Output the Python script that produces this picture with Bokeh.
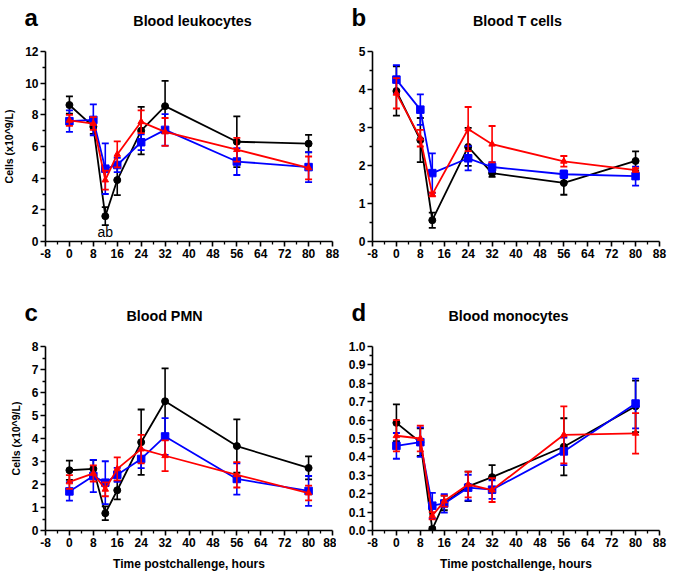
from bokeh.plotting import figure
from bokeh.layouts import gridplot
from bokeh.models import Range1d, FixedTicker, Label, NumeralTickFormatter
from bokeh.embed import file_html
from bokeh.resources import INLINE

# ---------------- data ----------------
hours = [0, 8, 12, 16, 24, 32, 56, 80]
hours_b = [0, 8, 12, 24, 32, 56, 80]

# a: Blood leukocytes
leuk_black = [8.62, 7.25, 1.60, 3.88, 7.00, 8.55, 6.30, 6.18]
leuk_black_err = [0.55, 0.45, 0.57, 0.95, 1.50, 1.60, 1.60, 0.55]
leuk_blue = [7.60, 7.68, 4.60, 4.83, 6.27, 7.05, 5.05, 4.70]
leuk_blue_err = [0.68, 0.98, 1.60, 0.45, 0.50, 1.00, 0.85, 0.95]
leuk_red = [7.65, 7.45, 3.88, 5.50, 7.56, 6.92, 5.80, 4.65]
leuk_red_err = [0.35, 0.40, 0.60, 0.82, 0.72, 0.88, 0.75, 0.72]

# b: Blood T cells
tc_black = [3.96, 2.67, 0.56, 2.49, 1.80, 1.54, 2.12]
tc_black_err = [0.65, 0.58, 0.20, 0.50, 0.10, 0.31, 0.25]
tc_blue = [4.26, 3.47, 1.80, 2.19, 1.96, 1.77, 1.72]
tc_blue_err = [0.38, 0.40, 0.52, 0.32, 0.13, 0.10, 0.25]
tc_red = [3.90, 2.72, 1.24, 2.96, 2.56, 2.11, 1.88]
tc_red_err = [0.40, 0.22, 0.05, 0.58, 0.48, 0.14, 0.05]

# c: Blood PMN
pmn_black = [2.62, 2.68, 0.75, 1.75, 3.84, 5.62, 3.67, 2.72]
pmn_black_err = [0.42, 0.38, 0.30, 0.40, 1.42, 1.43, 1.16, 0.50]
pmn_blue = [1.70, 2.37, 2.08, 2.42, 3.11, 4.09, 2.24, 1.72]
pmn_blue_err = [0.40, 0.70, 0.93, 0.30, 0.40, 0.80, 0.68, 0.65]
pmn_red = [2.11, 2.48, 1.79, 2.68, 3.54, 3.25, 2.42, 1.63]
pmn_red_err = [0.30, 0.35, 0.30, 0.50, 0.62, 0.67, 0.55, 0.32]

# d: Blood monocytes
mono_black = [0.585, 0.48, 0.008, 0.15, 0.24, 0.29, 0.455, 0.675]
mono_black_err = [0.10, 0.075, 0.01, 0.04, 0.08, 0.065, 0.155, 0.14]
mono_blue = [0.46, 0.48, 0.135, 0.147, 0.233, 0.222, 0.43, 0.69]
mono_blue_err = [0.07, 0.08, 0.07, 0.05, 0.07, 0.05, 0.075, 0.135]
mono_red = [0.515, 0.50, 0.08, 0.16, 0.25, 0.22, 0.52, 0.528]
mono_red_err = [0.085, 0.07, 0.02, 0.03, 0.07, 0.065, 0.155, 0.11]

x_ticks = [-8, 0, 8, 16, 24, 32, 40, 48, 56, 64, 72, 80, 88]
y_ticks_a = [0, 2, 4, 6, 8, 10, 12]
y_ticks_b = [0, 1, 2, 3, 4, 5]
y_ticks_c = [0, 1, 2, 3, 4, 5, 6, 7, 8]
y_ticks_d = [0.0, 0.1, 0.2, 0.3, 0.4, 0.5, 0.6, 0.7, 0.8, 0.9, 1.0]

titles = ["Blood leukocytes", "Blood T cells", "Blood PMN", "Blood monocytes"]
letters = ["a", "b", "c", "d"]
y_label = "Cells (x10^9/L)"
x_label = "Time postchallenge, hours"

FONT = "Liberation Sans"
BLACK, BLUE, RED = "#000000", "#0000ff", "#ff0000"


def midpoints(t):
    return [(t[i] + t[i + 1]) / 2 for i in range(len(t) - 1)]


def make_panel(letter, title, yticks, ymax, left_b, right_b, top_b, bottom_b, fw, fh,
               title_x, ylab=None, xlab=None, fmt=None):
    p = figure(frame_width=fw, frame_height=fh, output_backend="svg", toolbar_location=None,
               x_range=Range1d(-8, 88), y_range=Range1d(0, ymax),
               min_border_left=left_b, min_border_right=right_b,
               min_border_top=top_b, min_border_bottom=bottom_b)
    p.outline_line_color = None
    p.xgrid.grid_line_color = None
    p.ygrid.grid_line_color = None
    p.background_fill_color = "white"
    p.border_fill_color = "white"
    p.xaxis.ticker = FixedTicker(ticks=x_ticks, minor_ticks=midpoints(x_ticks))
    p.yaxis.ticker = FixedTicker(ticks=yticks, minor_ticks=midpoints(yticks))
    p.xaxis.major_label_overrides = {x_ticks[0]: str(x_ticks[0])}
    if fmt:
        p.yaxis.formatter = NumeralTickFormatter(format=fmt)
    for ax in (p.xaxis[0], p.yaxis[0]):
        ax.axis_line_width = 1.6
        ax.axis_line_color = "black"
        ax.major_tick_line_width = 1.6
        ax.minor_tick_line_width = 1.3
        ax.major_tick_in = 0
        ax.major_tick_out = 5
        ax.minor_tick_in = 0
        ax.minor_tick_out = 3
        ax.major_label_text_font = FONT
        ax.major_label_text_font_style = "bold"
        ax.major_label_text_font_size = "12px"
        ax.major_label_text_color = "black"
        ax.major_label_standoff = 2
        ax.axis_label_text_font = FONT
        ax.axis_label_text_font_style = "bold"
        ax.axis_label_text_color = "black"
    p.yaxis[0].axis_label_text_font_size = "10.5px"
    p.xaxis[0].axis_label_text_font_size = "12px"
    p.yaxis[0].axis_label_standoff = 7
    p.xaxis[0].axis_label_standoff = 7
    if ylab:
        p.yaxis[0].axis_label = ylab
    if xlab:
        p.xaxis[0].axis_label = xlab
    # title band first (nearest the frame), letter band stacked above it
    p.add_layout(Label(x=title_x, y=31, x_units="screen", y_units="screen", text=title,
                       text_font=FONT, text_font_style="bold", text_font_size="14.3px",
                       text_align="center", text_baseline="alphabetic", text_color="black"), "above")
    p.add_layout(Label(x=-21, y=18, x_units="screen", y_units="screen", text=letter,
                       text_font=FONT, text_font_style="bold", text_font_size="24px",
                       text_align="left", text_baseline="alphabetic", text_color="black"), "above")
    return p


def add_series(p, xs, ys, errs, color, marker, size):
    lo = [y - e for y, e in zip(ys, errs)]
    hi = [y + e for y, e in zip(ys, errs)]
    p.segment(x0=xs, y0=lo, x1=xs, y1=hi, line_color=color, line_width=1.6)
    p.scatter(xs, lo, marker="dash", size=7, line_color=color, line_width=1.8)
    p.scatter(xs, hi, marker="dash", size=7, line_color=color, line_width=1.8)
    p.line(xs, ys, line_color=color, line_width=1.8)
    p.scatter(xs, ys, marker=marker, size=size, fill_color=color, line_color=color)


FW = 287
pa = make_panel("a", titles[0], y_ticks_a, 12, 36, 10, 51, 57, FW, 190, 147, ylab=y_label)
pb = make_panel("b", titles[1], y_ticks_b, 5, 30, 8, 51, 57, FW, 190, 145)
pc = make_panel("c", titles[2], y_ticks_c, 8, 36, 10, 48, 36, FW, 184, 119, ylab=y_label, xlab=x_label)
pd = make_panel("d", titles[3], y_ticks_d, 1, 30, 8, 48, 36, FW, 184, 136, xlab=x_label, fmt="0.0")

for p, xs, data in [
    (pa, hours, [(leuk_black, leuk_black_err), (leuk_blue, leuk_blue_err), (leuk_red, leuk_red_err)]),
    (pb, hours_b, [(tc_black, tc_black_err), (tc_blue, tc_blue_err), (tc_red, tc_red_err)]),
    (pc, hours, [(pmn_black, pmn_black_err), (pmn_blue, pmn_blue_err), (pmn_red, pmn_red_err)]),
    (pd, hours, [(mono_black, mono_black_err), (mono_blue, mono_blue_err), (mono_red, mono_red_err)]),
]:
    add_series(p, xs, data[0][0], data[0][1], BLACK, "circle", 7)
    add_series(p, xs, data[1][0], data[1][1], BLUE, "square", 7.5)
    add_series(p, xs, data[2][0], data[2][1], RED, "triangle", 6.5)

pa.add_layout(Label(x=hours[2], y=0.6, text="ab", text_font=FONT, text_font_size="14px",
                    text_align="center", text_baseline="middle", text_color="black"))

grid = gridplot([[pa, pb], [pc, pd]], toolbar_location=None)
open("out.html", "w").write(file_html(grid, INLINE))
